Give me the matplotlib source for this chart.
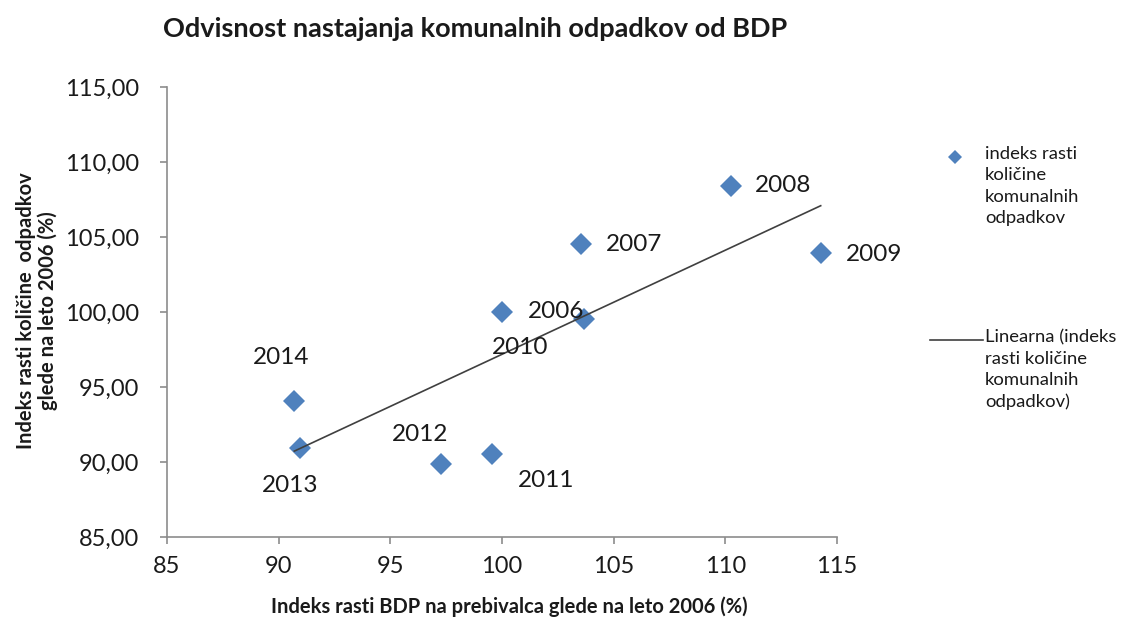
import numpy as np
import matplotlib
matplotlib.use("Agg")
import matplotlib.pyplot as plt
from matplotlib.lines import Line2D
from matplotlib.ticker import FuncFormatter

plt.rcParams['font.family'] = ['Lato', 'DejaVu Sans']

years = ["2006", "2007", "2008", "2009", "2010", "2011", "2012", "2013", "2014"]
gdp_index = [100.00, 103.53, 110.24, 114.27, 103.69, 99.54, 97.26, 90.96, 90.70]
waste_index = [100.00, 104.51, 108.42, 103.91, 99.51, 90.51, 89.85, 90.91, 94.07]

title = "Odvisnost nastajanja komunalnih odpadkov od BDP"
xlabel = "Indeks rasti BDP na prebivalca glede na leto 2006 (%)"
ylabel = "Indeks rasti količine  odpadkov\nglede na leto 2006 (%)"
legend_points = "indeks rasti\nkoličine\nkomunalnih\nodpadkov"
legend_trend = "Linearna (indeks\nrasti količine\nkomunalnih\nodpadkov)"
x_ticks = [85, 90, 95, 100, 105, 110, 115]
y_ticks = [85, 90, 95, 100, 105, 110, 115]

# label offsets in pixels (dx, dy) and alignment
label_pos = {
    "2006": (26, 0, "left"), "2007": (25, 0, "left"), "2008": (24, 0, "left"),
    "2009": (25, -1, "left"), "2010": (-64, -28, "center"), "2011": (54, -26, "center"),
    "2012": (-21, 30, "center"), "2013": (-10, -37, "center"), "2014": (-13, 43, "center"),
}

W, H = 1122, 619
fig = plt.figure(figsize=(W / 100, H / 100), dpi=100)
ax = fig.add_axes([167 / W, 1 - 537 / H, (837 - 167) / W, (537 - 87) / H])

blue = "#4F81BD"
ax.plot(gdp_index, waste_index, linestyle="none", marker="D", markersize=11,
        color=blue, markeredgewidth=0, zorder=3)

# linear trendline
coef = np.polyfit(gdp_index, waste_index, 1)
xs = np.array([min(gdp_index), max(gdp_index)])
ax.plot(xs, np.polyval(coef, xs), color="#404040", linewidth=1.2, zorder=4)

for yr, x, y in zip(years, gdp_index, waste_index):
    dx, dy, ha = label_pos[yr]
    ax.annotate(yr, (x, y), xytext=(dx, dy), textcoords="offset pixels",
                ha=ha, va="center", fontsize=17.5, color="#1a1a1a", zorder=5)

ax.set_xlim(85, 115)
ax.set_ylim(85, 115)
ax.set_xticks(x_ticks)
ax.set_yticks(y_ticks)
ax.yaxis.set_major_formatter(FuncFormatter(lambda v, p: f"{v:.2f}".replace(".", ",")))
ax.xaxis.set_major_formatter(FuncFormatter(lambda v, p: f"{v:.0f}"))

for s in ["top", "right"]:
    ax.spines[s].set_visible(False)
for s in ["left", "bottom"]:
    ax.spines[s].set_color("#8c8c8c")
    ax.spines[s].set_linewidth(1.2)
ax.tick_params(axis="both", direction="out", length=5, width=1.2, color="#8c8c8c",
               labelsize=17, labelcolor="#1a1a1a")
ax.tick_params(axis="y", pad=15)
ax.tick_params(axis="x", pad=9)

fig.text(475 / W, 1 - 29 / H, title, ha="center", va="center", fontsize=19.5,
         fontweight="bold", color="#1a1a1a")
fig.text(509 / W, 1 - 607 / H, xlabel, ha="center", va="center", fontsize=14.5,
         fontweight="bold", color="#1a1a1a")
fig.text(37 / W, 1 - 311 / H, ylabel, ha="center", va="center", rotation=90,
         fontsize=14.5, fontweight="bold", color="#1a1a1a", multialignment="center",
         linespacing=1.1)

# legend (drawn in figure pixel coordinates)
fig.add_artist(Line2D([955 / W], [1 - 157 / H], marker="D", markersize=7,
                      color=blue, markeredgewidth=0, linestyle="none"))
fig.text(985 / W, 1 - 146 / H, legend_points, ha="left", va="top", fontsize=13.3,
         color="#1a1a1a", linespacing=1.42)
fig.add_artist(Line2D([930 / W, 983 / W], [1 - 340 / H, 1 - 340 / H],
                      color="#404040", linewidth=1.2))
fig.text(985 / W, 1 - 329 / H, legend_trend, ha="left", va="top", fontsize=13.3,
         color="#1a1a1a", linespacing=1.42)

fig.savefig("out.png", dpi=100)
